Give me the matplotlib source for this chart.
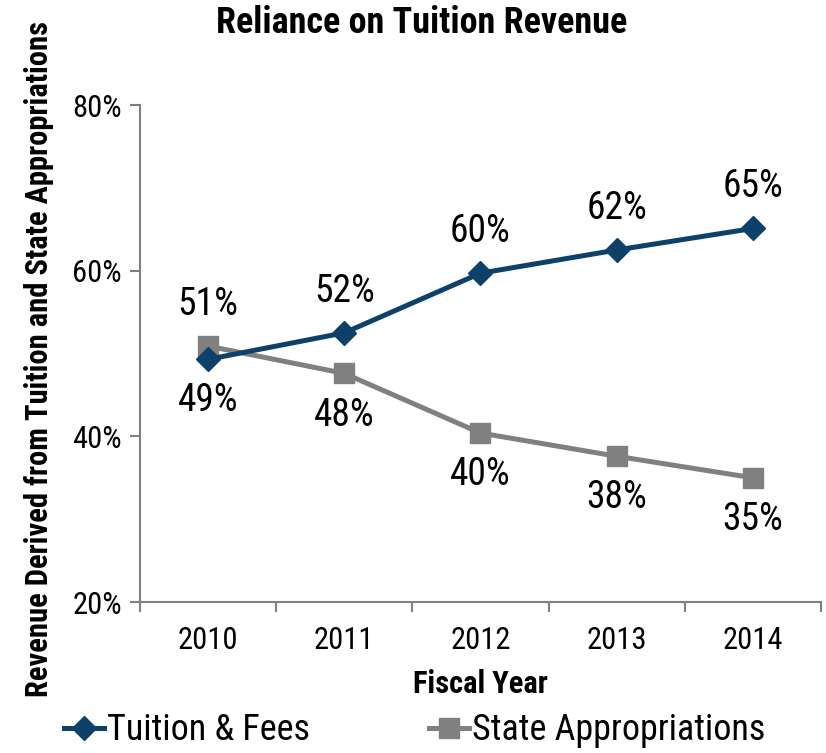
import matplotlib
matplotlib.use("Agg")
import matplotlib.pyplot as plt
from matplotlib.ticker import FuncFormatter

plt.rcParams['font.family'] = ['Liberation Sans Narrow', 'Arial Narrow', 'Roboto Condensed',
                               'Liberation Sans', 'DejaVu Sans']

years = ["2010", "2011", "2012", "2013", "2014"]
tuition = [49.3, 52.5, 59.7, 62.5, 65.1]
state = [50.9, 47.6, 40.4, 37.6, 35.0]
tuition_labels = ["49%", "52%", "60%", "62%", "65%"]
state_labels = ["51%", "48%", "40%", "38%", "35%"]

navy = "#0d4169"
grey = "#808080"

fig = plt.figure(figsize=(8.26, 7.53), dpi=100)
ax = fig.add_axes([0.1695, 0.2005, 0.8244, 0.66])

x = range(len(years))
ax.plot(x, tuition, color=navy, lw=3.6, marker="D", ms=12, label="Tuition & Fees", zorder=3)
ax.plot(x, state, color=grey, lw=3.6, marker="s", ms=15, label="State Appropriations", zorder=2)

# data labels: first tuition point below, rest above; state the opposite
for i in x:
    dy = -30 if i == 0 else 30
    ax.annotate(tuition_labels[i], (i, tuition[i]), xytext=(0, dy), textcoords="offset points",
                ha="center", va="center", fontsize=27)
    dy = 30 if i == 0 else -30
    ax.annotate(state_labels[i], (i, state[i]), xytext=(0, dy), textcoords="offset points",
                ha="center", va="center", fontsize=27)

ax.set_xlim(-0.5, 4.5)
ax.set_ylim(20, 80)
ax.set_yticks([20, 40, 60, 80])
ax.yaxis.set_major_formatter(FuncFormatter(lambda v, p: f"{v:.0f}%"))
ax.set_xticks(list(x))
ax.set_xticklabels(years)
ax.set_xticks([i - 0.5 for i in range(len(years) + 1)], minor=True)
ax.tick_params(axis="x", which="major", length=0, pad=17, labelsize=22)
ax.tick_params(axis="x", which="minor", length=7, width=1.5, color=grey)
ax.tick_params(axis="y", length=7, width=1.5, color=grey, labelsize=22, pad=6)

for s in ["top", "right"]:
    ax.spines[s].set_visible(False)
for s in ["left", "bottom"]:
    ax.spines[s].set_color(grey)
    ax.spines[s].set_linewidth(1.5)

ax.set_xlabel("Fiscal Year", fontsize=22, fontweight="bold", labelpad=10)
ax.set_ylabel("Revenue Derived from Tuition and State Appropriations", fontsize=22,
              fontweight="bold", labelpad=8)
ax.yaxis.set_label_coords(-0.127, 0.49)
fig.text(0.51, 0.97, "Reliance on Tuition Revenue", ha="center", va="center",
         fontsize=26, fontweight="bold")

fig.legend(loc="center left", bbox_to_anchor=(0.078, 0.03), ncol=2, frameon=False,
           fontsize=26, handlelength=1.1, handletextpad=0.08, columnspacing=3.3,
           borderpad=0, borderaxespad=0)

fig.savefig("out.png", dpi=100)
